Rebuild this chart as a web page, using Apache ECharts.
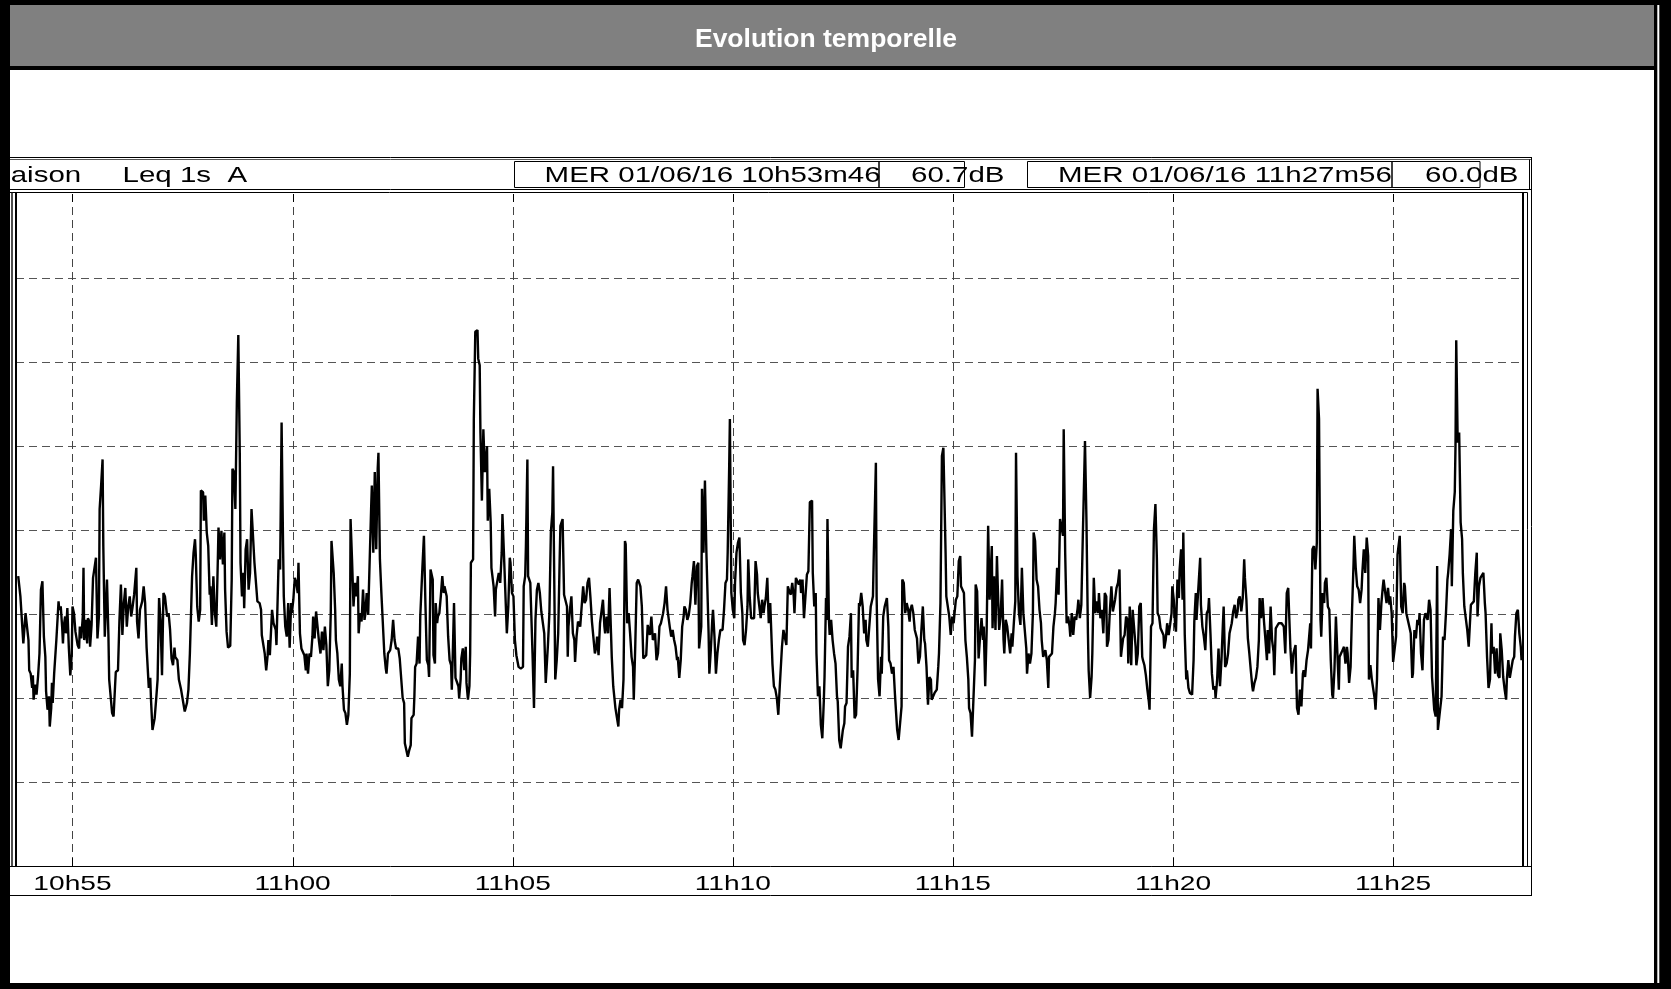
<!DOCTYPE html>
<html>
<head>
<meta charset="utf-8">
<script src="https://cdn.jsdelivr.net/npm/echarts@6.0.0/dist/echarts.min.js"></script>
<style>html,body{margin:0;padding:0;background:#fff;}#c{width:1671px;height:989px;}</style>
</head>
<body>
<div id="c"></div>
<script>
// Start of the record: MER 01/06/16 10h53m46 (seconds of the day)
const START = 10 * 3600 + 53 * 60 + 46;
const END_OFFSET = 2050; // 11h27m56
// Leq 1s A samples: [seconds since start, dB]
const leqSamples = [
[0,54.5],[3,52.1],[5,52.3],[7,46.5],[10,50.1],[12,50.3],[14,46.9],[15,43.3],[17,42.9],[19,41.2],[20,42.7],[21,39.8],[23,41.6],[25,40.4],[27,42.5],[29,45.3],[31,52.9],[33,53.9],[35,47.3],[37,44.9],[38,40.8],[40,38.6],[42,40.2],[43,36.6],[45,38.8],[46,41.8],[47,39.4],[49,42.9],[52,46.9],[55,51.5],[56,50.5],[58,50.9],[60,48.3],[61,46.5],[62,48.5],[64,49.7],[65,47.7],[67,50.7],[69,46.0],[71,42.7],[73,45.3],[74,50.9],[76,50.1],[78,47.9],[79,48.1],[81,46.3],[83,45.9],[84,48.5],[86,47.1],[88,49.7],[89,55.5],[90,46.9],[92,49.3],[94,46.5],[95,49.5],[97,49.1],[98,46.1],[100,48.7],[102,54.3],[104,55.5],[106,56.7],[108,47.1],[110,49.7],[111,62.5],[113,65.3],[115,68.4],[116,58.1],[118,47.3],[121,54.1],[123,47.3],[124,42.2],[128,38.2],[130,37.8],[132,41.4],[133,43.1],[136,43.3],[138,49.3],[140,53.5],[142,47.5],[144,51.3],[146,53.1],[148,48.5],[150,50.9],[152,52.1],[154,49.7],[156,50.9],[158,52.3],[161,55.5],[162,49.1],[164,47.1],[166,50.5],[169,51.5],[171,53.3],[173,51.3],[175,46.0],[178,41.2],[180,42.4],[181,39.8],[183,36.2],[186,37.6],[188,39.8],[190,42.2],[192,51.9],[194,49.3],[196,42.7],[198,52.5],[200,52.1],[203,49.7],[205,50.1],[207,48.1],[209,44.7],[211,43.9],[213,46.0],[214,44.9],[217,44.5],[219,42.2],[222,41.0],[224,40.8],[227,38.4],[230,39.4],[232,41.0],[234,45.3],[237,54.5],[239,57.3],[241,58.9],[242,57.1],[244,50.9],[246,49.1],[248,50.5],[249,64.7],[252,64.5],[253,61.1],[255,64.1],[257,59.7],[259,58.1],[261,52.3],[262,53.3],[264,48.7],[266,54.5],[268,50.1],[270,48.5],[272,56.1],[273,60.3],[275,56.5],[277,59.9],[279,55.9],[281,59.7],[282,52.9],[284,47.9],[286,46.0],[289,46.2],[291,54.1],[292,67.3],[294,66.9],[296,62.5],[298,75.2],[300,83.2],[302,69.2],[303,56.1],[305,52.1],[307,54.9],[308,50.7],[310,57.7],[312,58.9],[314,52.9],[316,54.9],[318,62.5],[320,59.3],[322,56.1],[324,55.9],[326,51.5],[329,51.3],[331,50.5],[332,47.5],[334,47.7],[336,45.3],[338,43.3],[340,45.1],[341,46.9],[343,45.1],[346,50.5],[348,48.9],[351,48.1],[352,46.3],[355,56.5],[357,55.3],[359,72.8],[361,58.1],[362,52.1],[364,48.5],[366,47.3],[368,51.3],[370,46.0],[372,51.3],[373,50.1],[375,51.7],[377,54.3],[379,53.7],[381,52.5],[382,56.1],[384,47.7],[386,45.9],[388,45.7],[390,45.1],[392,43.3],[393,45.3],[395,42.9],[397,45.3],[399,44.9],[401,47.3],[402,49.7],[404,47.1],[406,50.3],[408,48.5],[410,46.7],[412,45.3],[414,47.9],[416,45.7],[418,48.5],[420,46.3],[422,41.4],[424,43.3],[426,50.1],[427,58.7],[430,54.9],[432,50.5],[433,46.9],[435,45.3],[437,42.2],[439,41.4],[441,44.1],[442,41.4],[444,38.6],[446,38.2],[448,36.8],[450,38.0],[452,42.9],[453,61.3],[455,56.5],[457,50.9],[459,53.7],[461,52.1],[463,54.5],[464,47.7],[466,50.1],[468,49.1],[470,52.9],[472,49.3],[473,49.9],[475,52.5],[477,49.9],[479,50.1],[481,62.5],[482,65.3],[484,57.3],[486,66.9],[488,57.7],[490,67.3],[491,69.2],[493,56.5],[495,52.5],[497,52.5],[499,45.3],[501,43.5],[502,42.9],[504,45.3],
[507,45.7],[509,46.9],[511,49.3],[513,46.9],[515,45.9],[518,45.9],[520,44.7],[522,44.5],[524,40.0],[526,39.4],[527,34.6],[529,33.8],[531,33.0],[533,33.8],[535,34.4],[536,37.6],[539,38.0],[540,40.2],[541,43.7],[543,44.1],[545,47.3],[547,44.1],[548,49.7],[550,49.9],[551,55.7],[553,59.3],[555,51.3],[557,44.5],[559,43.9],[560,42.5],[562,55.3],[565,54.1],[566,45.1],[568,44.1],[569,51.3],[571,48.9],[572,49.7],[574,50.1],[576,52.1],[578,54.5],[580,52.5],[581,53.3],[584,52.1],[586,47.3],[588,44.5],[590,43.9],[591,41.0],[592,44.1],[594,51.3],[596,42.4],[598,42.2],[600,41.4],[601,40.0],[603,42.2],[604,44.7],[606,45.9],[608,43.3],[610,46.1],[611,41.8],[613,39.8],[615,41.4],[616,45.3],[617,56.1],[620,56.5],[621,73.2],[623,83.6],[626,83.8],[627,80.4],[629,79.6],[630,71.6],[632,63.5],[634,72.0],[636,66.9],[639,70.0],[640,61.1],[642,64.9],[644,60.9],[645,55.5],[648,53.3],[650,49.7],[651,52.9],[653,52.9],[655,54.9],[657,53.7],[659,57.3],[660,61.9],[662,57.3],[664,57.1],[666,47.7],[668,50.9],[670,56.7],[671,56.1],[673,52.5],[675,52.1],[677,46.9],[679,45.1],[680,44.9],[682,43.7],[685,43.5],[688,43.7],[689,53.3],[691,54.5],[692,58.1],[694,68.4],[695,54.5],[698,53.7],[700,53.7],[701,45.3],[703,38.8],[705,49.3],[707,52.9],[709,53.7],[711,52.5],[713,50.3],[715,50.5],[717,47.7],[719,41.8],[720,41.6],[722,46.3],[724,50.1],[726,59.7],[728,62.1],[729,67.6],[731,50.9],[732,42.2],[734,44.5],[736,47.7],[738,56.5],[739,60.5],[742,61.3],[744,52.3],[746,52.1],[748,50.9],[749,44.9],[750,48.5],[752,50.5],[754,52.1],[756,47.7],[758,46.9],[759,44.3],[761,47.3],[763,49.1],[766,48.5],[768,50.9],[770,53.3],[772,51.3],[774,51.7],[776,53.7],[778,54.3],[780,51.9],[782,49.1],[784,48.9],[786,45.3],[788,46.1],[789,47.3],[791,45.1],[793,48.9],[795,48.7],[797,51.7],[799,48.5],[800,47.7],[802,49.7],[804,47.7],[806,53.1],[808,47.7],[809,44.9],[811,41.4],[814,38.8],[816,38.6],[818,36.6],[819,38.6],[821,39.8],[823,38.8],[825,42.2],[827,58.7],[828,58.3],[830,48.9],[832,50.1],[834,47.7],[836,44.9],[838,43.7],[839,39.8],[841,46.1],[843,53.7],[845,54.1],[847,54.3],[848,53.3],[850,50.9],[852,44.7],[854,44.7],[856,45.1],[858,48.7],[859,48.7],[861,47.5],[863,49.7],[865,46.9],[867,46.9],[868,47.7],[870,44.5],[872,45.3],[874,48.5],[876,48.9],[878,49.7],[879,50.1],[881,51.3],[883,53.3],[885,50.5],[887,50.5],[888,48.5],[890,47.3],[892,48.1],[894,46.9],[896,46.1],[898,44.5],[899,44.9],[901,42.4],[903,44.5],[905,48.5],[907,49.7],[908,50.9],[910,50.5],[912,49.3],[914,49.9],[916,51.3],[918,53.7],[919,54.5],[921,56.3],[923,51.1],[925,55.7],[927,56.1],[928,45.9],[931,48.5],[932,64.9],[934,57.3],[936,65.9],[938,57.3],[941,47.7],[942,42.9],[944,45.7],[946,49.3],[947,50.5],[949,47.3],[951,42.9],[953,45.3],[955,46.9],[957,48.1],[958,47.9],[960,48.1],[962,50.5],[964,53.7],[966,54.1],[967,57.3],[969,67.3],[970,73.2],[972,52.5],[974,50.5],[976,49.5],[977,53.7],[979,57.3],[981,58.5],[983,59.1],[985,52.5],[987,50.1],[988,46.9],[990,46.3],[992,48.1],[994,50.9],[995,56.5],[997,52.1],[999,49.5],[1001,49.5],[1003,49.5],[1005,56.3],[1007,54.7],[1008,52.5],[1010,52.3],[1012,49.5],[1014,51.7],[1016,50.1],[1017,50.9],[1019,51.9],[1021,54.3],[1023,48.9],
[1025,51.3],[1027,51.1],[1028,44.1],[1030,41.4],[1032,41.0],[1034,40.0],[1036,38.0],[1038,41.4],[1041,46.1],[1043,48.1],[1045,48.3],[1047,46.3],[1049,53.3],[1051,52.7],[1053,52.3],[1055,53.7],[1057,52.1],[1058,50.1],[1060,54.3],[1062,54.5],[1064,53.5],[1066,54.1],[1067,52.5],[1069,54.1],[1071,49.5],[1073,49.7],[1075,54.7],[1077,55.1],[1078,55.3],[1079,63.3],[1082,63.5],[1083,54.9],[1085,50.9],[1087,52.5],[1088,45.3],[1090,40.2],[1092,41.4],[1094,36.8],[1096,35.2],[1098,39.6],[1099,42.5],[1101,51.9],[1102,49.3],[1103,61.3],[1105,49.3],[1106,47.5],[1108,49.3],[1110,46.9],[1112,45.3],[1114,44.1],[1116,40.2],[1117,39.6],[1119,35.0],[1121,34.0],[1124,36.2],[1126,37.0],[1127,39.0],[1129,39.4],[1131,46.1],[1133,47.3],[1135,50.1],[1136,42.4],[1138,43.3],[1140,37.6],[1142,38.0],[1144,43.3],[1146,51.3],[1147,50.9],[1149,52.5],[1151,50.9],[1153,47.7],[1155,49.3],[1156,46.9],[1158,46.1],[1160,46.1],[1162,50.9],[1165,52.1],[1166,56.5],[1169,68.0],[1170,52.1],[1172,42.2],[1174,40.2],[1176,44.9],[1177,42.9],[1179,49.7],[1181,50.9],[1184,51.9],[1186,48.5],[1187,44.5],[1189,44.1],[1191,42.9],[1193,43.7],[1195,40.4],[1196,40.2],[1198,36.2],[1200,35.0],[1202,34.8],[1204,39.0],[1205,54.1],[1207,53.7],[1209,50.1],[1211,51.3],[1213,50.5],[1215,49.1],[1216,50.5],[1218,51.1],[1220,50.1],[1222,48.1],[1224,47.9],[1225,47.1],[1227,44.1],[1229,44.9],[1231,48.1],[1233,50.9],[1235,46.9],[1236,46.5],[1238,43.7],[1240,39.2],[1242,42.5],[1244,42.2],[1245,39.8],[1247,40.0],[1249,40.6],[1252,41.0],[1254,43.7],[1255,45.3],[1257,51.3],[1259,68.8],[1261,69.8],[1263,70.0],[1264,57.3],[1265,52.1],[1267,51.9],[1269,49.7],[1271,47.5],[1273,49.7],[1275,48.9],[1276,49.9],[1278,51.7],[1280,52.1],[1282,56.3],[1284,56.9],[1285,53.3],[1287,53.3],[1289,52.5],[1291,46.9],[1293,44.9],[1295,42.2],[1296,38.8],[1298,38.2],[1300,35.4],[1302,35.6],[1304,44.5],[1305,53.5],[1307,52.7],[1309,44.7],[1311,47.3],[1313,49.5],[1315,46.9],[1316,48.5],[1318,41.4],[1320,48.1],[1322,60.5],[1324,51.7],[1325,53.7],[1327,58.1],[1328,48.3],[1330,54.5],[1332,48.1],[1334,56.9],[1335,53.7],[1337,48.1],[1339,49.7],[1341,54.1],[1343,46.9],[1344,45.3],[1346,49.3],[1348,48.5],[1350,46.9],[1352,45.3],[1354,47.7],[1355,46.1],[1357,48.9],[1359,51.5],[1360,69.2],[1362,54.5],[1364,50.1],[1366,48.7],[1368,55.5],[1370,50.1],[1372,49.9],[1374,45.9],[1375,42.9],[1377,45.3],[1379,44.1],[1381,45.3],[1383,50.1],[1384,59.7],[1386,58.7],[1388,54.1],[1390,53.3],[1392,50.5],[1394,48.9],[1395,46.9],[1397,44.9],[1400,45.7],[1402,44.5],[1404,41.2],[1405,44.9],[1407,44.9],[1409,45.3],[1411,48.5],[1413,50.1],[1414,51.3],[1416,55.5],[1418,52.3],[1420,61.3],[1422,61.5],[1424,59.3],[1425,72.0],[1427,57.3],[1429,48.9],[1431,49.7],[1433,48.5],[1434,47.3],[1436,50.1],[1438,47.5],[1440,49.7],[1442,49.3],[1444,50.7],[1445,51.7],[1447,49.5],[1449,51.1],[1451,59.1],[1453,59.1],[1454,70.6],[1456,61.1],[1458,47.7],[1459,43.3],[1461,40.0],[1463,42.5],[1464,45.3],[1466,54.3],[1468,50.1],[1470,51.5],[1472,50.1],[1473,52.5],[1475,49.5],[1477,50.5],[1479,47.7],[1481,52.5],[1483,52.1],[1484,46.1],[1486,46.9],[1488,50.5],[1490,53.3],[1492,50.3],[1493,50.1],[1495,51.7],[1497,53.1],[1499,53.7],[1501,55.3],[1503,44.9],[1504,45.7],[1506,47.1],[1508,47.5],[1510,49.7],[1512,49.3],[1513,44.1],[1515,50.9],[1517,43.9],[1519,50.5],[1521,50.5],[1523,46.1],[1524,43.9],[1526,45.3],[1528,50.9],[1530,51.3],[1532,44.9],[1533,44.5],[1535,43.9],[1537,42.7],[1539,41.0],[1541,39.6],[1542,38.6],
[1544,48.5],[1546,48.9],[1548,60.1],[1550,63.1],[1552,56.5],[1553,50.1],[1555,49.7],[1557,48.3],[1559,48.1],[1561,47.5],[1562,45.9],[1564,46.9],[1566,48.9],[1568,47.5],[1570,48.7],[1572,50.1],[1573,53.3],[1575,51.7],[1577,48.5],[1578,47.9],[1580,54.1],[1582,51.9],[1583,55.3],[1585,57.7],[1587,51.7],[1588,59.7],[1590,47.5],[1592,42.2],[1593,43.3],[1595,41.2],[1597,40.6],[1600,40.4],[1602,44.5],[1603,49.1],[1605,52.5],[1606,49.3],[1607,50.9],[1609,51.1],[1611,56.7],[1612,51.1],[1614,48.5],[1616,47.3],[1618,45.7],[1620,50.1],[1622,50.5],[1623,51.9],[1625,47.7],[1627,42.9],[1629,41.0],[1631,41.4],[1632,40.0],[1634,42.0],[1636,45.9],[1638,41.4],[1640,44.5],[1642,48.9],[1643,50.9],[1645,43.7],[1647,44.1],[1649,45.3],[1651,47.7],[1652,48.1],[1654,48.9],[1656,50.3],[1658,51.1],[1660,49.5],[1662,50.3],[1663,51.7],[1665,52.1],[1667,50.3],[1669,51.9],[1671,56.5],[1672,54.3],[1674,51.7],[1676,47.1],[1678,45.3],[1680,43.3],[1682,41.4],[1683,40.8],[1685,41.8],[1687,42.4],[1689,43.7],[1691,46.9],[1692,51.9],[1694,49.5],[1696,51.9],[1698,49.1],[1700,46.9],[1702,44.5],[1703,48.1],[1705,45.3],[1707,50.9],[1709,46.9],[1711,45.5],[1712,42.7],[1714,48.3],[1716,48.5],[1718,48.9],[1720,48.7],[1722,48.9],[1723,48.9],[1725,48.5],[1727,45.3],[1729,52.5],[1731,53.1],[1732,53.3],[1734,45.9],[1736,42.9],[1738,45.3],[1740,45.3],[1741,46.3],[1743,38.8],[1745,38.0],[1747,41.0],[1749,39.0],[1751,42.9],[1752,43.3],[1754,42.5],[1756,44.5],[1758,45.7],[1761,48.9],[1762,45.9],[1764,57.7],[1766,58.1],[1768,55.3],[1770,58.5],[1771,76.8],[1773,73.2],[1775,49.3],[1776,47.3],[1778,52.5],[1780,51.3],[1781,53.7],[1783,54.3],[1785,50.9],[1787,50.5],[1789,44.5],[1791,40.4],[1792,40.0],[1794,43.3],[1796,49.7],[1798,49.9],[1800,41.0],[1801,44.9],[1803,45.3],[1805,45.7],[1807,46.1],[1809,44.1],[1811,46.1],[1812,45.3],[1814,41.8],[1816,43.7],[1818,50.5],[1820,55.9],[1821,59.3],[1823,55.5],[1825,53.3],[1827,52.9],[1829,51.3],[1831,52.9],[1832,54.9],[1834,57.7],[1836,54.9],[1838,59.1],[1840,56.9],[1841,42.2],[1843,43.9],[1845,42.2],[1847,41.0],[1849,39.8],[1850,38.6],[1852,42.2],[1854,51.9],[1856,48.1],[1858,51.3],[1860,53.3],[1861,54.1],[1863,54.3],[1865,51.3],[1867,53.1],[1869,51.1],[1870,52.1],[1872,50.1],[1874,44.3],[1876,44.1],[1878,47.3],[1880,57.1],[1881,56.9],[1883,59.3],[1885,50.9],[1887,50.1],[1889,53.7],[1890,53.3],[1892,50.1],[1894,49.3],[1896,48.5],[1898,47.7],[1900,42.4],[1901,42.9],[1903,48.1],[1905,47.1],[1907,49.3],[1909,48.7],[1910,50.1],[1912,45.3],[1914,43.3],[1916,49.3],[1918,50.1],[1920,50.1],[1921,49.3],[1923,51.7],[1925,50.5],[1927,42.5],[1929,42.4],[1930,38.6],[1932,37.8],[1934,55.7],[1935,36.2],[1937,37.8],[1939,37.6],[1940,40.2],[1942,47.3],[1944,46.9],[1946,50.1],[1948,54.1],[1949,54.9],[1951,57.1],[1953,60.1],[1954,53.3],[1956,62.3],[1958,64.5],[1959,70.0],[1960,82.6],[1962,70.4],[1964,71.6],[1966,60.9],[1968,58.9],[1969,54.9],[1971,50.9],[1973,50.9],[1975,48.1],[1977,46.1],[1979,46.3],[1980,51.1],[1982,51.1],[1984,51.5],[1986,54.9],[1988,57.3],[1989,49.7],[1991,53.3],[1993,54.3],[1995,54.5],[1997,54.9],[1999,51.3],[2000,50.1],[2002,44.9],[2004,41.2],[2006,42.2],[2008,48.9],[2009,45.3],[2011,46.1],[2013,42.9],[2015,45.9],[2017,42.7],[2019,42.4],[2020,47.7],[2022,45.7],[2024,42.5],[2026,41.0],[2028,39.8],[2029,42.2],[2031,44.5],[2033,42.4],[2035,42.5],[2037,44.5],[2039,44.9],[2040,47.3],[2042,50.1],[2044,50.5],[2046,47.7],[2048,46.1],[2049,44.5]
];
// X axis tick times (seconds of the day) and labels
const tickTimes = [39300, 39600, 39900, 40200, 40500, 40800, 41100];
const tickLabels = ['10h55', '11h00', '11h05', '11h10', '11h15', '11h20', '11h25'];
// Y axis (dB) range
const Y_MIN = 20, Y_MAX = 100, Y_STEP = 10;
// Header texts
const titleText = 'Evolution temporelle';
const headerLeft = ['aison', 'Leq 1s  A'];
const cursor1 = ['MER 01/06/16 10h53m46', '60.7dB'];
const cursor2 = ['MER 01/06/16 11h27m56', '60.0dB'];

const FONT = "'Liberation Sans', Arial, sans-serif";
const chart = echarts.init(document.getElementById('c'), null, { renderer: 'canvas' });

function hline(x1, x2, y, w, c) {
  return { type: 'line', z: 20, silent: true, shape: { x1: x1, y1: y, x2: x2, y2: y }, style: { stroke: c || '#000', lineWidth: w || 1 } };
}
function vline(x, y1, y2, w, c) {
  return { type: 'line', z: 20, silent: true, shape: { x1: x, y1: y1, x2: x, y2: y2 }, style: { stroke: c || '#000', lineWidth: w || 1 } };
}
function rectEl(x, y, w, h, fill) {
  return { type: 'rect', z: 20, silent: true, shape: { x: x, y: y, width: w, height: h }, style: { fill: fill } };
}
function boxEl(x, y, w, h) {
  return { type: 'rect', z: 20, silent: true, shape: { x: x, y: y, width: w, height: h }, style: { fill: 'none', stroke: '#000', lineWidth: 1 } };
}
function txt(s, x, y) {
  return { type: 'text', z: 21, silent: true, x: x, y: y, scaleX: 1.34, style: { text: s, fontSize: 22, fontFamily: FONT, fill: '#000', align: 'left', verticalAlign: 'middle' } };
}

const graphics = [
  // outer black frame of the page
  rectEl(0, 0, 1671, 5, '#000'),
  rectEl(0, 0, 10, 989, '#000'),
  rectEl(1654, 0, 17, 989, '#000'),
  rectEl(0, 983, 1671, 6, '#000'),
  rectEl(1657.3, 5, 2, 978, '#fff'),
  // title bar
  rectEl(10, 5, 1644, 61, '#808080'),
  rectEl(0, 66, 1654, 4, '#000'),
  // chart box
  hline(10, 1531.5, 157.5, 1),
  hline(10, 1531.5, 159.5, 1, '#555'),
  hline(10, 1531.5, 189.5, 1),
  hline(10, 1527.5, 192.5, 1),
  vline(1531.5, 157, 896, 1),
  hline(10, 1531.5, 895.5, 1),
  // header cells
  boxEl(514.5, 161.5, 364.5, 26),
  boxEl(879, 161.5, 85.5, 26),
  boxEl(1027.5, 161.5, 364.5, 26),
  boxEl(1392, 161.5, 88, 26),
  vline(1529.5, 159.5, 189.5, 1),
  txt(headerLeft[0], 10.7, 175.5),
  txt(headerLeft[1], 122.5, 175.5),
  txt(cursor1[0], 544.6, 175.5),
  txt(cursor1[1], 911, 175.5),
  txt(cursor2[0], 1058, 175.5),
  txt(cursor2[1], 1425, 175.5),
  // plot frame
  vline(12, 192.5, 866.5, 1.6, '#222'),
  vline(16, 192.5, 866.5, 2, '#000'),
  vline(1523, 192.5, 866.5, 2, '#000'),
  vline(1527.5, 192.5, 866.5, 1, '#000'),
  hline(10, 1531.5, 866.5, 1)
];

const option = {
  backgroundColor: '#fff',
  animation: false,
  title: {
    text: titleText,
    z: 40,
    left: 821,
    top: 35,
    textAlign: 'center',
    textVerticalAlign: 'middle',
    textStyle: { color: '#fff', fontSize: 26.5, fontWeight: 'bold', fontFamily: FONT }
  },
  grid: { left: 16, top: 194, width: 1507, height: 672, containLabel: false },
  xAxis: {
    type: 'value',
    min: START - 3,
    max: START + END_OFFSET + 1,
    axisLine: { show: false },
    axisTick: { show: false },
    axisLabel: { show: false },
    splitLine: { show: false }
  },
  yAxis: {
    type: 'value',
    min: Y_MIN,
    max: Y_MAX,
    interval: Y_STEP,
    axisLine: { show: false },
    axisTick: { show: false },
    axisLabel: { show: false },
    splitLine: { show: true, showMinLine: false, showMaxLine: false, lineStyle: { color: '#555', width: 1, type: [8, 5] } }
  },
  graphic: { elements: graphics },
  series: [
    {
      type: 'custom',
      z: 1,
      clip: false,
      silent: true,
      data: tickTimes.map(function (t) { return [t, Y_MIN]; }),
      renderItem: function (params, api) {
        const v = api.value(0);
        const pb = api.coord([v, Y_MIN]);
        const pt = api.coord([v, Y_MAX]);
        const x = Math.round(pb[0]) + 0.5;
        return {
          type: 'group',
          children: [
            { type: 'line', shape: { x1: x, y1: pt[1], x2: x, y2: pb[1] }, style: { stroke: '#444', lineWidth: 1, lineDash: [8, 5] } },
            { type: 'line', shape: { x1: x, y1: pt[1], x2: x, y2: pt[1] + 8 }, style: { stroke: '#000', lineWidth: 1 } },
            { type: 'line', shape: { x1: x, y1: pb[1] - 8, x2: x, y2: pb[1] }, style: { stroke: '#000', lineWidth: 1 } },
            { type: 'text', x: pb[0], y: pb[1] + 18.5, scaleX: 1.34,
              style: { text: tickLabels[params.dataIndex], fontSize: 21, fontFamily: FONT, fill: '#000', align: 'center', verticalAlign: 'middle' } }
          ]
        };
      }
    },
    {
      type: 'line',
      z: 3,
      name: 'Leq 1s A',
      data: leqSamples.map(function (p) { return [START + p[0], p[1]]; }),
      showSymbol: false,
      symbol: 'none',
      smooth: false,
      lineStyle: { color: '#000', width: 2.4 },
      itemStyle: { color: '#000' }
    }
  ]
};
chart.setOption(option);
</script>
</body>
</html>
